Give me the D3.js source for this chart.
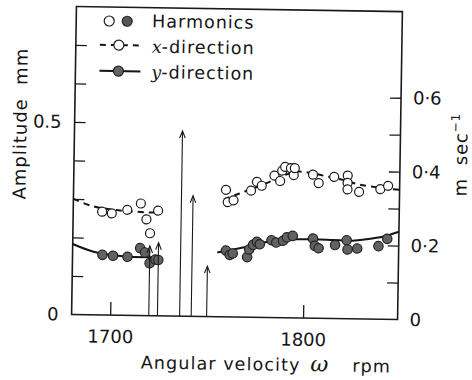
<!DOCTYPE html>
<html><head><meta charset="utf-8">
<script src="https://cdn.jsdelivr.net/npm/d3@7"></script>
<style>
html,body{margin:0;padding:0;background:#fff;}
svg{display:block;}
text{font-family:"DejaVu Sans",sans-serif;fill:#151515;}
</style></head><body>
<svg id="chart" width="472" height="380"></svg>
<script>
// Harmonic amplitudes of the rotor against shaft speed (x- and y-direction)
const xDirRpm = [1695, 1700, 1708, 1715, 1718, 1720, 1724,
  1759, 1760, 1763, 1772, 1775, 1777.5, 1784, 1787, 1788, 1789.5, 1792.5, 1794, 1794.5,
  1804, 1807, 1815, 1822, 1822, 1822, 1828, 1839, 1843];
const xDirAmp = [0.268, 0.264, 0.274, 0.291, 0.250, 0.214, 0.273,
  0.330, 0.298, 0.303, 0.329, 0.352, 0.342, 0.369, 0.355, 0.382, 0.392, 0.389, 0.371, 0.389,
  0.373, 0.351, 0.368, 0.372, 0.353, 0.336, 0.330, 0.338, 0.347];

const yDirRpm = [1695.5, 1701, 1708.5, 1715, 1717.5, 1720, 1723, 1724.5,
  1759.5, 1761.5, 1763, 1770.5, 1771.5, 1773.5, 1775.5, 1777, 1783, 1785.5, 1789, 1791, 1794,
  1804.5, 1805.5, 1807.5, 1816, 1822, 1822.5, 1827.5, 1838.5, 1843];
const yDirAmp = [0.156, 0.154, 0.152, 0.175, 0.164, 0.136, 0.146, 0.145,
  0.172, 0.161, 0.165, 0.156, 0.176, 0.188, 0.196, 0.190, 0.201, 0.195, 0.200, 0.209, 0.213,
  0.207, 0.188, 0.182, 0.191, 0.204, 0.180, 0.183, 0.190, 0.209];

// Fitted curves, drawn in two pieces either side of the resonance band
const xCurveLeftRpm = [1680, 1690, 1700, 1710, 1720, 1725];
const xCurveLeftAmp = [0.300, 0.282, 0.274, 0.270, 0.268, 0.268];
const xCurveRightRpm = [1758, 1766, 1780, 1790, 1796, 1804, 1812, 1820, 1828, 1840, 1849];
const xCurveRightAmp = [0.305, 0.321, 0.349, 0.372, 0.380, 0.376, 0.368, 0.360, 0.349, 0.341, 0.337];
const yCurveLeftRpm = [1680, 1690, 1700, 1710, 1720, 1725];
const yCurveLeftAmp = [0.183, 0.165, 0.156, 0.152, 0.152, 0.153];
const yCurveRightRpm = [1755, 1763, 1774, 1781, 1793, 1805, 1815, 1825, 1832, 1841, 1849];
const yCurveRightAmp = [0.167, 0.175, 0.188, 0.197, 0.204, 0.205, 0.204, 0.203, 0.207, 0.215, 0.228];

// Amplitudes running off beyond the recorded level near resonance
const arrowRpm = [1720, 1724.5, 1736, 1742, 1750];
const arrowAmp = [0.181, 0.190, 0.481, 0.313, 0.131];

// Axis ticks and labels
const leftTicks = [0.1, 0.2, 0.3, 0.4, 0.5, 0.6, 0.7];
const leftLabels = [0, 0.5];
const rightTicks = [0.1, 0.2, 0.3, 0.4, 0.5, 0.6];
const rightLabels = [0, 0.2, 0.4, 0.6];
const rpmTicks = [1700, 1800];
const legendNames = ["Harmonics", "-direction", "-direction"];
const legendSymbols = ["", "x", "y"];

const L = 74, R = 400, T = 9, B = 317;
const svg = d3.select("#chart");
const g = svg.append("g").attr("transform", "rotate(0.9,236,163)");

const x = d3.scaleLinear().domain([1680, 1849]).range([L, R]);
const yL = d3.scaleLinear().domain([0, 0.8]).range([B, T]);
const yR = d3.scaleLinear().domain([0, 0.833]).range([B, T]);

// frame
g.append("rect").attr("x", L).attr("y", T).attr("width", R - L).attr("height", B - T)
  .attr("fill", "none").attr("stroke", "#1a1a1a").attr("stroke-width", 1.6);

function styleAxis(sel) {
  sel.select(".domain").remove();
  sel.selectAll("line").attr("stroke", "#1a1a1a").attr("stroke-width", 1.3);
  sel.selectAll("text").attr("font-size", 18).attr("fill", "#151515")
    .attr("font-family", "DejaVu Sans, sans-serif");
}

g.append("g").attr("transform", `translate(${L},0)`)
  .call(d3.axisRight(yL).tickValues(leftTicks).tickSize(11).tickSizeOuter(0).tickFormat(""))
  .call(styleAxis);
g.append("g").attr("transform", `translate(${L},0)`)
  .call(d3.axisLeft(yL).tickValues(leftLabels).tickSize(0).tickPadding(13)
    .tickFormat(d => d === 0 ? "0" : d3.format(".1f")(d)))
  .call(styleAxis);

g.append("g").attr("transform", `translate(${R},0)`)
  .call(d3.axisLeft(yR).tickValues(rightTicks).tickSize(11).tickSizeOuter(0).tickFormat(""))
  .call(styleAxis);
g.append("g").attr("transform", `translate(${R},0)`)
  .call(d3.axisRight(yR).tickValues(rightLabels).tickSize(0).tickPadding(12)
    .tickFormat(d => d === 0 ? "0" : d3.format(".1f")(d).replace(".", "\u00b7")))
  .call(styleAxis);

g.append("g").attr("transform", `translate(0,${B})`)
  .call(d3.axisTop(x).tickValues(rpmTicks).tickSize(13).tickSizeOuter(0).tickFormat(""))
  .call(styleAxis);
g.append("g").attr("transform", `translate(0,${B})`)
  .call(d3.axisBottom(x).tickValues(rpmTicks).tickSize(0).tickPadding(15).tickFormat(d3.format("d")))
  .call(styleAxis);

// axis titles
const xt = g.append("text").attr("x", 144).attr("y", 370).attr("font-size", 17.5)
  .attr("letter-spacing", 1.1);
xt.append("tspan").text("Angular velocity");
xt.append("tspan").attr("dx", 10).attr("font-style", "italic").attr("font-family", "DejaVu Serif, serif")
  .attr("font-size", 22).attr("letter-spacing", 0).text("\u03c9");
xt.append("tspan").attr("dx", 24).text("rpm");

g.append("text").attr("transform", "translate(26,127) rotate(-90)").attr("text-anchor", "middle")
  .attr("font-size", 18).attr("letter-spacing", 1).attr("xml:space", "preserve").text("Amplitude  mm");

const rt = g.append("text").attr("transform", "translate(467,193) rotate(-90)")
  .attr("font-size", 18).attr("letter-spacing", 0.8).attr("xml:space", "preserve");
rt.append("tspan").text("m  sec");
rt.append("tspan").attr("font-size", 12).attr("dy", -8).text("\u22121");

// fitted curves
const line = d3.line().curve(d3.curveCatmullRom.alpha(0.5));
function curve(rpm, amp, dashed) {
  g.append("path").attr("d", line(rpm.map((r, i) => [x(r), yL(amp[i])])))
    .attr("fill", "none").attr("stroke", "#141414").attr("stroke-width", 2)
    .attr("stroke-dasharray", dashed ? "6,5" : null);
}
curve(xCurveLeftRpm, xCurveLeftAmp, true);
curve(xCurveRightRpm, xCurveRightAmp, true);
curve(yCurveLeftRpm, yCurveLeftAmp, false);
curve(yCurveRightRpm, yCurveRightAmp, false);

// measured points
g.append("g").selectAll("circle").data(xDirRpm.map((r, i) => [r, xDirAmp[i]])).join("circle")
  .attr("cx", d => x(d[0])).attr("cy", d => yL(d[1])).attr("r", 4.5)
  .attr("fill", "#fff").attr("stroke", "#1a1a1a").attr("stroke-width", 1.2);
g.append("g").selectAll("circle").data(yDirRpm.map((r, i) => [r, yDirAmp[i]])).join("circle")
  .attr("cx", d => x(d[0])).attr("cy", d => yL(d[1])).attr("r", 4.7)
  .attr("fill", "#626262").attr("stroke", "#222").attr("stroke-width", 1.2);

// arrows
const arrows = g.append("g").selectAll("g").data(arrowRpm.map((r, i) => [r, arrowAmp[i]])).join("g");
arrows.append("line").attr("x1", d => x(d[0])).attr("x2", d => x(d[0]))
  .attr("y1", yL(0)).attr("y2", d => yL(d[1]))
  .attr("stroke", "#1a1a1a").attr("stroke-width", 1.1);
arrows.append("path")
  .attr("d", d => `M${x(d[0]) - 2.8},${yL(d[1]) + 7}L${x(d[0])},${yL(d[1])}L${x(d[0]) + 2.8},${yL(d[1]) + 7}`)
  .attr("fill", "none").attr("stroke", "#1a1a1a").attr("stroke-width", 1.1);

// legend
const leg = g.append("g");
leg.append("circle").attr("cx", 107).attr("cy", 23).attr("r", 5)
  .attr("fill", "#fff").attr("stroke", "#1a1a1a").attr("stroke-width", 1.2);
leg.append("circle").attr("cx", 125).attr("cy", 23).attr("r", 5)
  .attr("fill", "#555").attr("stroke", "#222").attr("stroke-width", 1.2);
leg.append("line").attr("x1", 98).attr("x2", 137).attr("y1", 47).attr("y2", 47)
  .attr("stroke", "#141414").attr("stroke-width", 2).attr("stroke-dasharray", "6,5");
leg.append("circle").attr("cx", 117).attr("cy", 47).attr("r", 5)
  .attr("fill", "#fff").attr("stroke", "#1a1a1a").attr("stroke-width", 1.2);
leg.append("line").attr("x1", 98).attr("x2", 139).attr("y1", 73).attr("y2", 73)
  .attr("stroke", "#141414").attr("stroke-width", 2);
leg.append("circle").attr("cx", 117).attr("cy", 73).attr("r", 5)
  .attr("fill", "#626262").attr("stroke", "#222").attr("stroke-width", 1.2);

legendNames.forEach((name, i) => {
  const t = leg.append("text").attr("x", 150).attr("y", 28.5 + i * 25.5)
    .attr("font-size", 17.5).attr("letter-spacing", 1);
  if (legendSymbols[i]) {
    t.append("tspan").attr("font-style", "italic").attr("font-family", "DejaVu Serif, serif")
      .attr("letter-spacing", 0).text(legendSymbols[i]);
  }
  t.append("tspan").text(name);
});
</script>
</body></html>
